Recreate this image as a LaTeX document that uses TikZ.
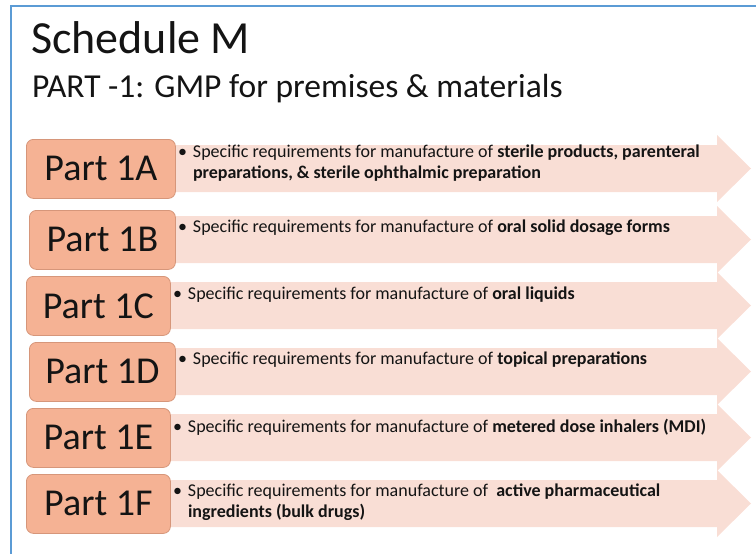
\documentclass[tikz,border=0pt]{standalone}
\usepackage{fontspec}
\setmainfont{Carlito}
\usetikzlibrary{positioning, calc}

\definecolor{framecol}{RGB}{91,155,213}
\definecolor{partfill}{RGB}{245,178,148}
\definecolor{partedge}{RGB}{214,150,122}
\definecolor{bandfill}{RGB}{249,222,213}
\definecolor{ink}{RGB}{20,20,20}

\begin{document}
\begin{tikzpicture}[x=1pt, y=-1pt,
	frame/.style={draw=framecol, line width=2pt},
	band/.style={fill=bandfill},
	partbox/.style={draw=partedge, fill=partfill, rounded corners=7pt, line width=0.8pt, inner sep=0pt, anchor=north west, minimum height=59pt, font=\fontsize{38}{38}\selectfont, text=ink},
	desc/.style={anchor=north west, inner sep=0pt, align=left, font=\fontsize{18}{20.5}\selectfont, text=ink}]
	
	\useasboundingbox (0,0) rectangle (756,554);
	\draw[frame] (10.5,554) -- (10.5,5.5) -- (756,5.5);
	
	\node[anchor=base west, inner sep=0pt, font=\fontsize{46}{46}\selectfont, text=ink] (title) at (31,53) {Schedule M};
	\node[anchor=base west, inner sep=0pt, font=\fontsize{33.5}{34}\selectfont, text=ink] (subtitle) at (32,97) {PART -1:\hspace{10pt}GMP for premises \& materials};
	
	% one row per part: top / left / right / letter / baseline offset / text
	\foreach \t/\l/\r/\n/\b/\txt in {
		139/26/175/A/19/{Specific requirements for manufacture of \textbf{sterile products, parenteral}\\\textbf{preparations, \& sterile ophthalmic preparation}},
		210/29/175/B/23/{Specific requirements for manufacture of \textbf{oral solid dosage forms}},
		276/26/170/C/24/{Specific requirements for manufacture of \textbf{oral liquids}},
		342/29/175/D/23/{Specific requirements for manufacture of \textbf{topical preparations}},
		408/26/170/E/24/{Specific requirements for manufacture of \textbf{metered dose inhalers (MDI)}},
		474/26/170/F/23/{Specific requirements for manufacture of \ \textbf{active pharmaceutical}\\\textbf{ingredients (bulk drugs)}}} {
		\fill[band] (\l+10,\t+6) -- (717,\t+6) -- (717,\t-4) -- (751,\t+29.5) -- (717,\t+63) -- (717,\t+53) -- (\l+10,\t+53) -- cycle;
		\node[partbox, minimum width={\r-\l}] (part\n) at (\l,\t) {Part 1\n};
		\node[desc] (desc\n) at ($(part\n.north east)+(17,\b-13.3)$) {\llap{\textbullet\hspace{6pt}}\txt};
	}
\end{tikzpicture}
\end{document}
